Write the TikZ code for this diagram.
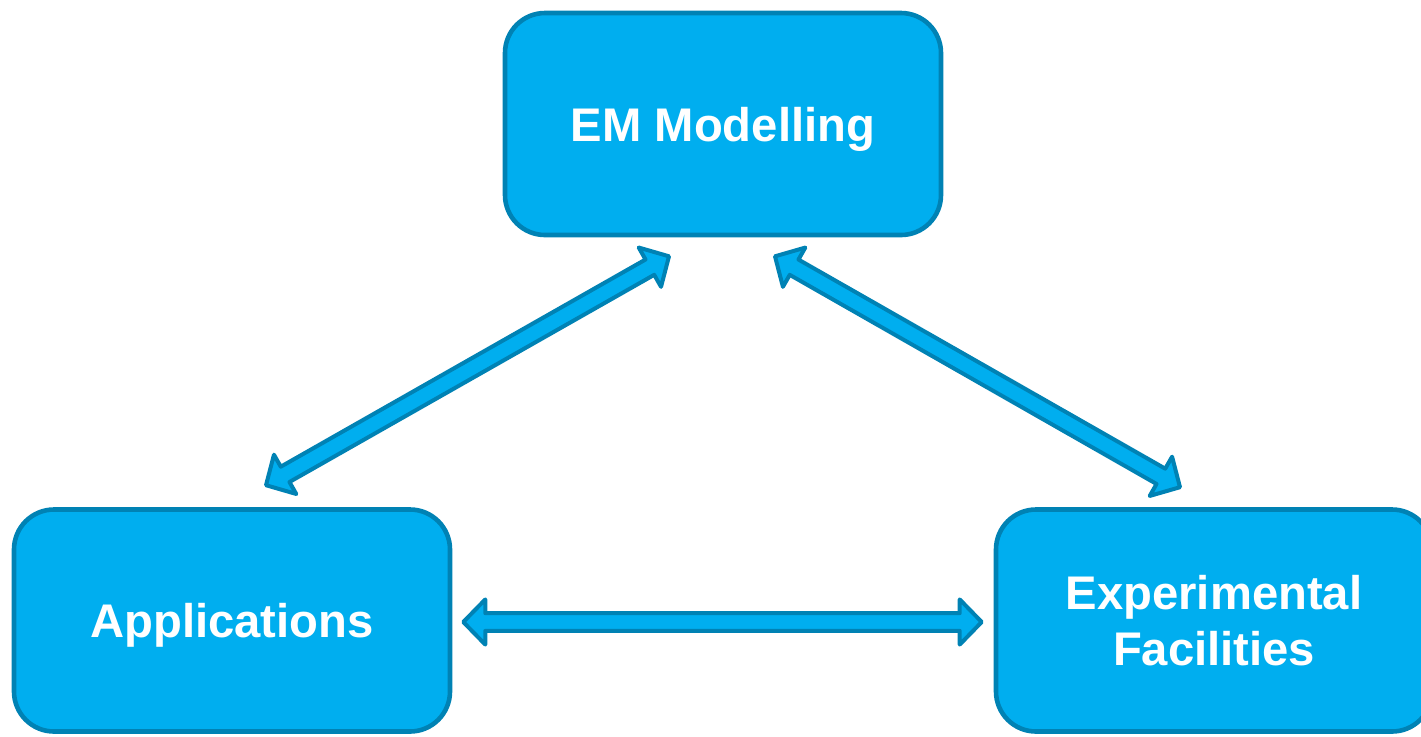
\documentclass[tikz,border=0pt]{standalone}
\usepackage{fontspec}
\setmainfont{Liberation Sans}
\usetikzlibrary{calc}
\definecolor{boxfill}{HTML}{00AEEF}
\definecolor{boxline}{HTML}{0082B4}
\tikzset{
  topic/.style={draw=boxline, fill=boxfill, line width=2.3pt, rounded corners=20pt,
    minimum width=218pt, minimum height=111pt, inner sep=0pt,
    text=white, font=\bfseries\fontsize{23.6pt}{28pt}\selectfont, align=center},
  oneline/.style={text depth=0pt},
  blockarrow/.style={draw=boxline, fill=boxfill, line width=2pt, line join=round}
}
% double-headed block arrow between two named points
\newcommand\blockarrow[2]{%
  \coordinate (ba-a) at ($(#1)!11pt!(#2)$);
  \coordinate (ba-b) at ($(#2)!11pt!(#1)$);
  \path[blockarrow] (#1)
    -- ($(ba-a)!11.3pt!90:(#2)$) -- ($(ba-a)!4.4pt!90:(#2)$)
    -- ($(ba-b)!4.4pt!-90:(#1)$) -- ($(ba-b)!11.3pt!-90:(#1)$)
    -- (#2)
    -- ($(ba-b)!11.3pt!90:(#1)$) -- ($(ba-b)!4.4pt!90:(#1)$)
    -- ($(ba-a)!4.4pt!-90:(#2)$) -- ($(ba-a)!11.3pt!-90:(#2)$)
    -- cycle;}
\begin{document}
\begin{tikzpicture}[x=0.5pt,y=-0.5pt]
\useasboundingbox (0,0) rectangle (1421,736);
\clip (0,0) rectangle (1421,736);
\node[topic,oneline] (em)  at (723,124)   {EM Modelling};
\node[topic,oneline] (app) at (232,620.5) {Applications};
\node[topic] (exp) at (1214,620.5) {Experimental\\Facilities};

\coordinate (em-l)  at ($(em.south)+(-54,19)$);
\coordinate (em-r)  at ($(em.south)+(52,19)$);
\coordinate (app-t) at ($(app.north)+(34,-22)$);
\coordinate (exp-t) at ($(exp.north)+(-34,-20)$);
\coordinate (app-r) at ($(app.east)+(11,1.5)$);
\coordinate (exp-l) at ($(exp.west)+(-12,1.5)$);

\blockarrow{app-t}{em-l}
\blockarrow{em-r}{exp-t}
\blockarrow{app-r}{exp-l}
\end{tikzpicture}
\end{document}
